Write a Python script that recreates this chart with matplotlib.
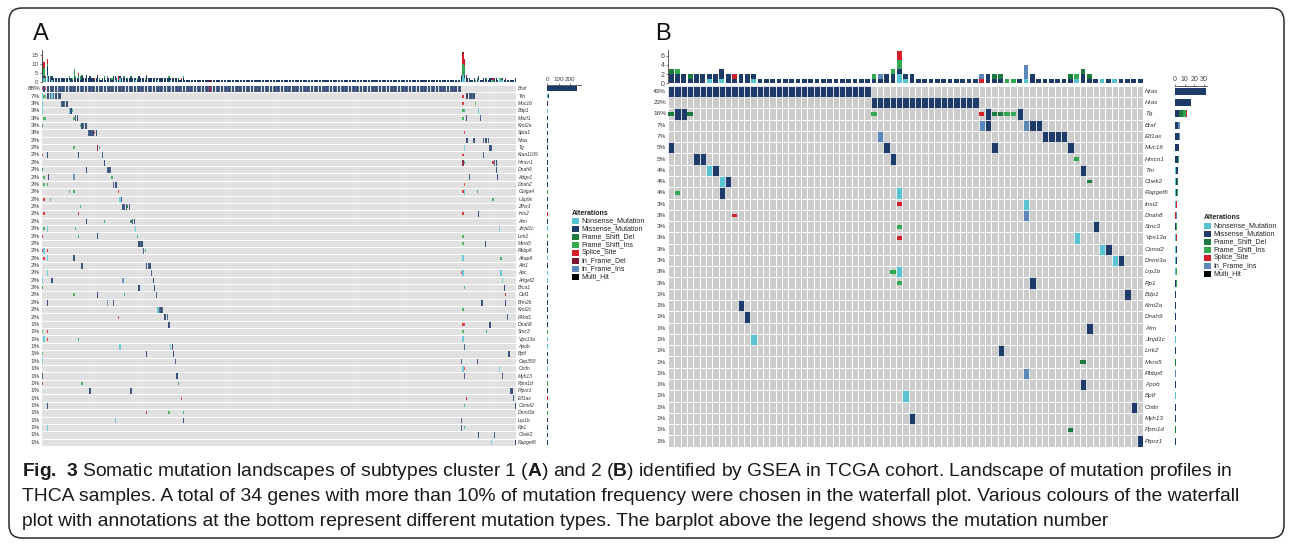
import matplotlib
matplotlib.use("Agg")
import matplotlib.pyplot as plt
import matplotlib.transforms as mtransforms
from matplotlib.patches import FancyBboxPatch, Rectangle
from matplotlib.colors import ListedColormap
import numpy as np

plt.rcParams["font.family"] = ["Liberation Sans", "DejaVu Sans"]
plt.rcParams["mathtext.fontset"] = "custom"
plt.rcParams["mathtext.rm"] = "Liberation Sans"
plt.rcParams["mathtext.bf"] = "Liberation Sans:bold"

W, H = 1292, 546

CLASSES = ["Nonsense_Mutation", "Missense_Mutation", "Frame_Shift_Del", "Frame_Shift_Ins",
           "Splice_Site", "In_Frame_Del", "In_Frame_Ins", "Multi_Hit"]
COLORS = ["#5ac3d1", "#1e3a69", "#1b7a3e", "#33a852", "#d41f2b", "#7a1530", "#5b88b8", "#000000"]
SMALL = ["Frame_Shift_Del", "Frame_Shift_Ins", "Splice_Site"]

# ---------------- panel A : cluster 1 ----------------
A_N = 300
A_GENES = ["Braf", "Ttn", "Muc16", "Bdp1", "Macf1", "Kmt2a", "Spta1", "Nras", "Tg", "Kiaa1109",
           "Hmcn1", "Dnah9", "Adgv1", "Dnah2", "Golga4", "Usp9x", "Zfhx3", "Ints2", "Atm", "Jmjd1c",
           "Lrrk2", "Mxra5", "Rbbp6", "Akap9", "Akt1", "Apc", "Arfgef2", "Brca1", "Gbf1", "Brin2b",
           "Kmt2c", "Pkhd1", "Dnah8", "Smc3", "Vps13a", "Apob", "Bptf", "Cep350", "Cntln", "Myh13",
           "Ppm1d", "Ptprz1", "Eif1ax", "Csmd2", "Dnmt3a", "Lrp1b", "Rp1", "Chek2", "Rapgef6"]
A_PCT = ["88%", "7%"] + ["3%"] * 5 + ["2%"] * 25 + ["1%"] * 17

A_NONSENSE = {
    "Ttn": [0, 6], "Muc16": [0], "Bdp1": [0, 17, 276], "Usp9x": [49],
    "Jmjd1c": [3, 59, 289], "Rbbp6": [1], "Akap9": [3, 266], "Apc": [3, 266, 290],
    "Arfgef2": [0, 291], "Kmt2c": [73], "Apob": [49, 81], "Cep350": [0],
    "Cntln": [266, 289], "Vps13a": [1, 266], "Lrp1b": [46], "Rp1": [3],
    "Tg": [267], "Golga4": [267], "Rapgef6": [284],
}
A_MISSENSE = {
    "Braf": [1] + list(range(3, 106)) + list(range(107, 265)),
    "Ttn": [3, 4, 5, 7, 8, 9, 10, 11, 268, 269, 270, 271, 272, 273],
    "Muc16": [12, 13, 14, 15, 16], "Bdp1": [18], "Macf1": [21, 22, 268, 277],
    "Kmt2a": [25, 26, 27, 28], "Spta1": [29, 30, 31, 32, 34],
    "Nras": [268, 269, 273, 279, 280, 281, 282], "Tg": [283, 284],
    "Kiaa1109": [3, 23, 38, 279], "Hmcn1": [39, 286, 287], "Dnah9": [28, 41, 42, 43, 287],
    "Adgv1": [4, 270, 288], "Dnah2": [45, 46, 47], "Usp9x": [50], "Zfhx3": [51, 52, 53, 55],
    "Ints2": [276], "Atm": [28, 57, 58], "Lrrk2": [35], "Mxra5": [61, 62, 63, 280],
    "Rbbp6": [64], "Akap9": [20], "Akt1": [25, 66, 67, 68], "Apc": [69], "Arfgef2": [6, 70],
    "Brca1": [61, 71, 292], "Gbf1": [35, 72], "Brin2b": [3, 45, 278, 293],
    "Kmt2c": [74, 75, 76], "Pkhd1": [77, 78, 79, 294], "Dnah8": [80, 283], "Apob": [82, 267],
    "Bptf": [66, 83, 295], "Cep350": [84, 265, 275], "Myh13": [0, 85, 267, 291],
    "Ptprz1": [30, 56, 296, 297], "Eif1ax": [298], "Csmd2": [3, 299], "Lrp1b": [89, 265],
    "Rp1": [265], "Chek2": [276, 286], "Rapgef6": [299],
}
A_FS_DEL = {"Kmt2a": [0], "Brca1": [0], "Zfhx3": [54], "Atm": [56], "Ppm1d": [86], "Dnah9": [0]}
A_FS_INS = {
    "Ttn": [1, 2], "Muc16": [274], "Bdp1": [19, 266, 267], "Macf1": [1, 2, 20, 266],
    "Kmt2a": [24], "Tg": [20, 36], "Adgv1": [1, 44], "Dnah2": [1, 3],
    "Golga4": [17, 20, 275], "Usp9x": [5, 285], "Zfhx3": [24], "Atm": [39],
    "Jmjd1c": [1, 21], "Lrrk2": [23, 60, 266], "Mxra5": [266], "Rbbp6": [65],
    "Akap9": [290], "Brca1": [267], "Gbf1": [20, 52], "Kmt2c": [266],
    "Smc3": [0, 266, 281], "Vps13a": [23], "Bptf": [0], "Ppm1d": [25],
    "Csmd2": [267], "Dnmt3a": [80, 89], "Rp1": [267], "Hmcn1": [267],
}
A_SPLICE = {
    "Braf": [0, 2], "Ttn": [266], "Muc16": [266], "Spta1": [33, 267],
    "Kiaa1109": [0, 266], "Hmcn1": [285], "Golga4": [48, 266], "Usp9x": [1],
    "Ints2": [1, 23, 266], "Lrrk2": [0], "Rbbp6": [0, 3], "Akap9": [1],
    "Apc": [265], "Gbf1": [293], "Pkhd1": [48], "Dnah8": [266, 267],
    "Smc3": [3], "Vps13a": [3], "Cntln": [267], "Ppm1d": [0],
    "Eif1ax": [88, 268], "Dnmt3a": [66], "Dnah2": [267],
}
A_IF_DEL = {"Braf": [106], "Tg": [35], "Hmcn1": [266]}
A_IF_INS = {"Adgv1": [20], "Brin2b": [41], "Arfgef2": [51]}

# ---------------- panel B : cluster 2 ----------------
B_N = 75
B_GENES = ["Nras", "Hras", "Tg", "Braf", "Eif1ax", "Muc16", "Hmcn1", "Ttn", "Chek2", "Rapgef6",
           "Inst2", "Dnah8", "Smc3", "Vps13a", "Csmd2", "Dnmt3a", "Lrp1b", "Rp1", "Bdp1", "Kmt2a",
           "Dnah9", "Atm", "Jmjd1c", "Lrrk2", "Mxra5", "Rbbp6", "Apob", "Bptf", "Cntln", "Myh13",
           "Ppm1d", "Ptprz1"]
B_PCT = ["43%", "23%", "16%", "7%", "7%", "5%", "5%", "4%", "4%", "4%"] + ["3%"] * 8 + ["1%"] * 14

B_NONSENSE = {"Ttn": [6], "Chek2": [8], "Rapgef6": [36], "Inst2": [56], "Vps13a": [64],
              "Csmd2": [68], "Dnmt3a": [70], "Lrp1b": [36], "Jmjd1c": [13], "Bptf": [37]}
B_MISSENSE = {
    "Nras": list(range(0, 32)), "Hras": list(range(32, 49)), "Tg": [1, 2, 50, 55],
    "Braf": [50, 57, 58], "Eif1ax": [59, 60, 61, 62], "Muc16": [0, 34, 51, 63],
    "Hmcn1": [4, 5, 35], "Ttn": [7, 65], "Chek2": [9], "Rapgef6": [8], "Smc3": [67],
    "Csmd2": [69], "Dnmt3a": [71], "Rp1": [57], "Bdp1": [72], "Kmt2a": [11], "Dnah9": [12],
    "Atm": [66], "Lrrk2": [52], "Apob": [65], "Cntln": [73], "Myh13": [38], "Ptprz1": [74],
}
B_FS_DEL = {"Tg": [0, 3, 51, 52], "Chek2": [66], "Mxra5": [65], "Ppm1d": [63]}
B_FS_INS = {"Tg": [32, 53, 54], "Rapgef6": [1], "Hmcn1": [64], "Smc3": [36],
            "Lrp1b": [35], "Rp1": [36]}
B_SPLICE = {"Tg": [49], "Inst2": [36], "Dnah8": [10], "Vps13a": [36]}
B_IF_DEL = {}
B_IF_INS = {"Braf": [49, 56], "Eif1ax": [33], "Dnah8": [56], "Rbbp6": [56]}

fig = plt.figure(figsize=(W / 100, H / 100), dpi=100)


def fx(x):
    return x / W


def fy(y):
    return 1 - y / H


def add_ax(x0, y0, x1, y1):
    return fig.add_axes([fx(x0), fy(y1), (x1 - x0) / W, (y1 - y0) / H])


def build_grid(genes, n, tables):
    grid = np.full((len(genes), n), -1)
    for k, tab in enumerate(tables):
        for g, cols in tab.items():
            grid[genes.index(g), cols] = k
    return grid


def draw_panel(genes, n, tables, pct, box, top_box, bar_box, top_max, top_ticks,
               bar_max, bar_ticks, small_h, mark_w, lw, grey, fs_pct, fs_gene,
               pct_x, gene_x, fs_tick, dense=False):
    grid = build_grid(genes, n, tables)
    ng = len(genes)
    rows = np.arange(ng)
    cols = np.arange(n)

    # waterfall matrix
    ax = add_ax(*box)
    if dense:
        # too many samples for outlined cells: grey field + thin white separators
        ax.pcolormesh(np.arange(n + 1) - 0.5, np.arange(ng + 1) - 0.5, np.zeros((ng, n)),
                      cmap=ListedColormap([grey]))
    else:
        ax.pcolormesh(np.arange(n + 1) - 0.5, np.arange(ng + 1) - 0.5, np.zeros((ng, n)),
                      cmap=ListedColormap([grey]), edgecolors="white", linewidth=lw)
    for k, name in enumerate(CLASSES):
        r, c = np.nonzero(grid == k)
        if len(r) == 0:
            continue
        if name in SMALL:
            ax.bar(c, small_h, bottom=r - small_h / 2, width=mark_w, color=COLORS[k],
                   linewidth=0)
        elif dense:
            ax.bar(c, 0.86, bottom=r - 0.43, width=mark_w, color=COLORS[k], linewidth=0)
        else:
            ax.bar(c, 1, bottom=r - 0.5, width=1, color=COLORS[k], edgecolor="white",
                   linewidth=lw)
    if dense:
        ax.vlines(np.arange(n + 1) - 0.5, -0.5, ng - 0.5, color="white", lw=0.22, alpha=0.8)
        ax.hlines(np.arange(ng + 1) - 0.5, -0.5, n - 0.5, color="white", lw=0.7)
    ax.set_xlim(-0.5, n - 0.5)
    ax.set_ylim(ng - 0.5, -0.5)
    ax.axis("off")

    tr = mtransforms.blended_transform_factory(fig.transFigure, ax.transData)
    for i in rows:
        ax.text(fx(pct_x), i, pct[i], transform=tr, ha="right", va="center",
                fontsize=fs_pct, color="#333333")
        ax.text(fx(gene_x), i, genes[i], transform=tr, ha="left", va="center",
                fontsize=fs_gene, style="italic", color="#333333")

    # mutations per sample
    axt = add_ax(*top_box)
    bottom = np.zeros(n)
    for k in range(len(CLASSES)):
        h = (grid == k).sum(axis=0)
        if h.sum() == 0:
            continue
        axt.bar(cols, h, bottom=bottom, width=0.75, color=COLORS[k], linewidth=0)
        bottom += h
    axt.set_xlim(-0.5, n - 0.5)
    axt.set_ylim(0, top_max)
    axt.set_yticks(top_ticks)
    axt.set_xticks([])
    for s in ["top", "right", "bottom"]:
        axt.spines[s].set_visible(False)
    axt.spines["left"].set_linewidth(0.6)
    axt.spines["left"].set_color("#444444")
    axt.tick_params(axis="y", labelsize=fs_tick, length=1.5, width=0.5, pad=1,
                    colors="#444444")
    axt.patch.set_alpha(0)

    # mutations per gene
    axb = add_ax(*bar_box)
    left = np.zeros(ng)
    for k in range(len(CLASSES)):
        w = (grid == k).sum(axis=1)
        if w.sum() == 0:
            continue
        axb.barh(rows, w, left=left, height=0.62, color=COLORS[k], linewidth=0)
        left += w
    axb.set_ylim(ng - 0.5, -0.5)
    axb.set_xlim(0, bar_max)
    axb.set_xticks(bar_ticks)
    axb.set_yticks([])
    axb.xaxis.tick_top()
    for s in ["bottom", "right", "left"]:
        axb.spines[s].set_visible(False)
    axb.spines["top"].set_linewidth(0.6)
    axb.spines["top"].set_color("#444444")
    axb.tick_params(axis="x", labelsize=fs_tick, length=1.5, width=0.5, pad=0.5,
                    colors="#444444")
    axb.patch.set_alpha(0)


def draw_legend(x, y, names, dy, sq_w, sq_h, text_dx):
    fig.text(fx(x), fy(y), "Alterations", fontsize=5, fontweight="bold",
             ha="left", va="center", color="#222222")
    for i, name in enumerate(names):
        yy = y + dy * (i + 1)
        k = CLASSES.index(name)
        fig.add_artist(Rectangle((fx(x), fy(yy + sq_h / 2)), sq_w / W, sq_h / H,
                                 transform=fig.transFigure, color=COLORS[k], lw=0))
        fig.text(fx(x + text_dx), fy(yy), name, fontsize=5, ha="left", va="center",
                 color="#222222")


draw_panel(A_GENES, A_N, [A_NONSENSE, A_MISSENSE, A_FS_DEL, A_FS_INS, A_SPLICE, A_IF_DEL,
                          A_IF_INS, {}], A_PCT,
           box=(41.7, 85, 516, 446), top_box=(41.7, 50, 516, 81.7),
           bar_box=(547.3, 85, 580.8, 446), top_max=18, top_ticks=[0, 5, 10, 15],
           bar_max=295, bar_ticks=[0, 100, 200], small_h=0.4, mark_w=0.8, lw=0.35,
           grey="#dcdcdc", fs_pct=4.6, fs_gene=3.6, pct_x=40, gene_x=518.3, fs_tick=4.5,
           dense=True)

draw_panel(B_GENES, B_N, [B_NONSENSE, B_MISSENSE, B_FS_DEL, B_FS_INS, B_SPLICE, B_IF_DEL,
                          B_IF_INS, {}], B_PCT,
           box=(668, 85.7, 1143.3, 446.7), top_box=(668, 50, 1143.3, 83.3),
           bar_box=(1175, 85.7, 1206.9, 446.7), top_max=7.2, top_ticks=[0, 2, 4, 6],
           bar_max=33, bar_ticks=[0, 10, 20, 30], small_h=0.33, mark_w=0.85, lw=0.5,
           grey="#cccccc", fs_pct=4.6, fs_gene=4.5, pct_x=666, gene_x=1145, fs_tick=5)

draw_legend(572, 213.3, CLASSES, 7.9, 6.7, 6, 9.7)
draw_legend(1204, 217.7, [c for c in CLASSES if c != "In_Frame_Del"], 8.0, 7.3, 6, 9.3)

fig.text(fx(33), fy(34), "A", fontsize=17, ha="left", va="center", color="#111111")
fig.text(fx(655), fy(34), "B", fontsize=17, ha="left", va="center", color="#111111")

# caption
CAPTION = [
    r"$\mathbf{Fig.\ 3}$ Somatic mutation landscapes of subtypes cluster 1 ($\mathbf{A}$) and 2 "
    r"($\mathbf{B}$) identified by GSEA in TCGA cohort. Landscape of mutation profiles in",
    "THCA samples. A total of 34 genes with more than 10% of mutation frequency were chosen "
    "in the waterfall plot. Various colours of the waterfall",
    "plot with annotations at the bottom represent different mutation types. The barplot "
    "above the legend shows the mutation number",
]
for i, line in enumerate(CAPTION):
    fig.text(fx(22), fy(472 + 24.5 * i), line, fontsize=13.9, ha="left", va="center",
             color="#1a1a1a")

fig.add_artist(FancyBboxPatch((9, 8), 1275, 530, boxstyle="round,pad=0,rounding_size=13",
                              transform=mtransforms.IdentityTransform(), fill=False,
                              ec="#2a2a2a", lw=1.1))

fig.savefig("out.png", dpi=100)
